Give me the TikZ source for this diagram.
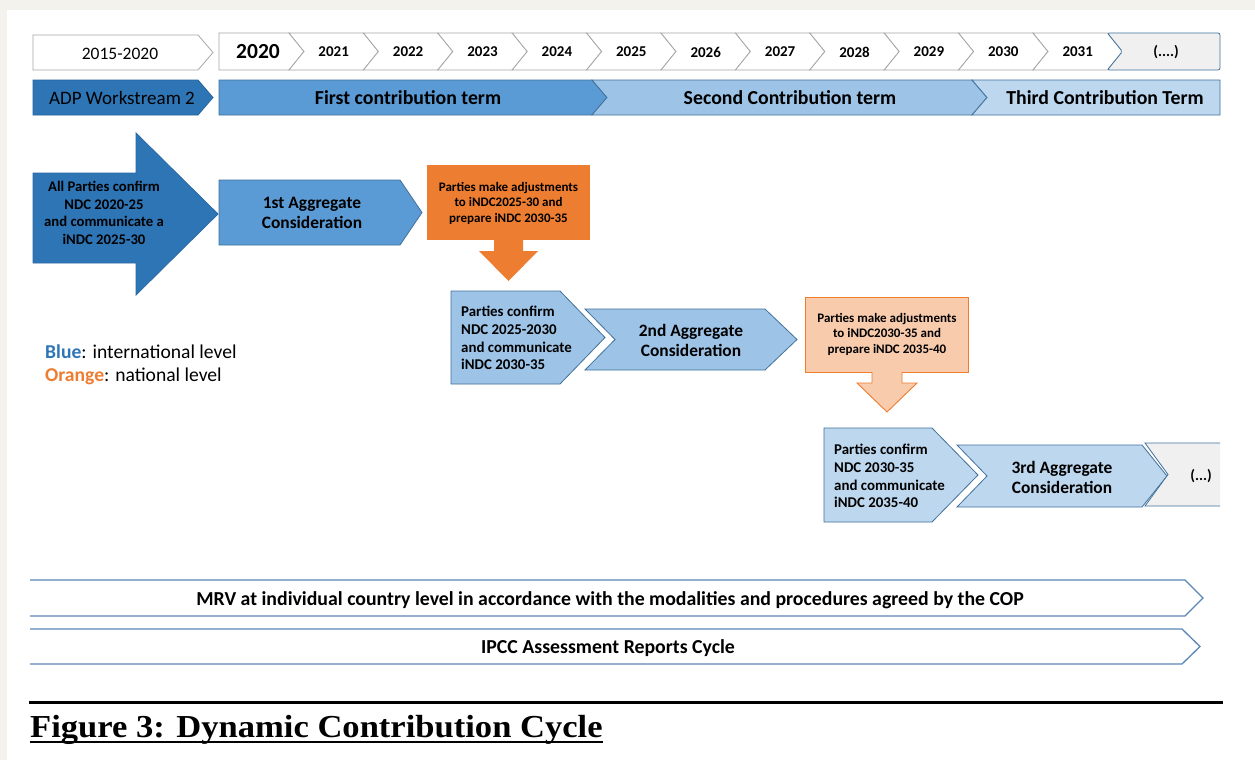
\documentclass[tikz,border=0pt]{standalone}
\usepackage{fontspec}
\setmainfont{Carlito}
\newfontfamily\capfont[FakeStretch=1.08]{Liberation Serif}
\definecolor{bgbeige}{HTML}{F3F2EC}
\definecolor{yrgray}{HTML}{A6A6A6}
\definecolor{dkblue}{HTML}{2E75B6}
\definecolor{mdblue}{HTML}{5B9BD5}
\definecolor{ltblue}{HTML}{9DC3E6}
\definecolor{vlblue}{HTML}{BDD7EE}
\definecolor{edgeblue}{HTML}{41719C}
\definecolor{lineblue}{HTML}{5A86B8}
\definecolor{orng}{HTML}{ED7D31}
\definecolor{ltorng}{HTML}{F8CBAD}
\definecolor{greyfill}{HTML}{F0F0F0}
\begin{document}
\begin{tikzpicture}[x=1pt,y=-1pt,
  yr/.style={draw=yrgray, fill=white, line width=0.8pt, line join=miter},
  bl/.style={draw=edgeblue, line width=0.8pt},
  yrtext/.style={font=\bfseries\fontsize{15}{17}\selectfont, inner sep=0pt},
  termtext/.style={font=\bfseries\fontsize{19.8}{22}\selectfont, inner sep=0pt},
  aggtext/.style={font=\bfseries\fontsize{17.4}{20}\selectfont, align=center, inner sep=0pt},
  pctext/.style={font=\bfseries\fontsize{14.9}{17.8}\selectfont, align=left, inner sep=0pt},
  ortext/.style={font=\bfseries\fontsize{13}{15.5}\selectfont, align=center, inner sep=0pt},
  bartext/.style={font=\bfseries\fontsize{19.8}{22}\selectfont, inner sep=0pt},
  legtext/.style={font=\fontsize{19.6}{22}\selectfont, anchor=west, inner sep=0pt}]
\useasboundingbox (0,0) rectangle (1255,760);
\fill[bgbeige] (0,0) rectangle (1255,760);
\fill[white] (7,10) rectangle (1255,760);

% ---- top row: years
\draw[yr] (33,35) -- (198,35) -- (213,52.5) -- (198,70) -- (33,70) -- cycle;
\node[font=\fontsize{17.5}{20}\selectfont, inner sep=0pt] (y1520) at (120,54) {2015-2020};
\draw[yr] (219,33) -- (289,33) -- (304,51.5) -- (289,70) -- (219,70) -- cycle;
\node[font=\bfseries\fontsize{21.5}{24}\selectfont, inner sep=0pt] (y2020) at (258,52) {2020};
\foreach \k [evaluate=\k as \a using 289+74.4*(\k-1), evaluate=\k as \b using 289+74.4*\k] in {1,...,11} {
  \draw[yr] (\a,33) -- (\b,33) -- (\b+15,51.5) -- (\b,70) -- (\a,70) -- (\a+15,51.5) -- cycle;
  \pgfmathtruncatemacro\yy{2020+\k}
  \node[yrtext] (y\yy) at ({(\a+\b)/2+7.5},52) {\yy};
}
\draw[bl, fill=greyfill, rounded corners=2pt] (1107.4,33) -- (1220,33) -- (1220,70) -- (1107.4,70) -- (1122.4,51.5) -- cycle;
\node[yrtext] (ymore) at (1166,52) {(....)};

% ---- second row: terms
\draw[draw=dkblue!85!black, fill=dkblue, line width=0.8pt] (33,80) -- (198,80) -- (213,97.5) -- (198,115) -- (33,115) -- cycle;
\node[font=\fontsize{19}{21}\selectfont, inner sep=0pt, text=black] (adp) at (122,98) {ADP Workstream 2};
\draw[bl, fill=mdblue] (219,80) -- (592,80) -- (607,97.5) -- (592,115) -- (219,115) -- cycle;
\node[termtext] (t1) at (408,97.5) {First contribution term};
\draw[bl, fill=ltblue] (592,80) -- (972,80) -- (987,97.5) -- (972,115) -- (592,115) -- (607,97.5) -- cycle;
\node[termtext] (t2) at (790,97.5) {Second Contribution term};
\draw[bl, fill=vlblue] (972,80) -- (1220,80) -- (1220,115) -- (972,115) -- (987,97.5) -- cycle;
\node[termtext] (t3) at (1105,97.5) {Third Contribution Term};

% ---- first cycle
\draw[draw=dkblue!90!black, fill=dkblue, line width=0.8pt] (33,173) -- (136,173) -- (136,133) -- (218,214) -- (136,295) -- (136,263) -- (33,263) -- cycle;
\node[font=\bfseries\fontsize{14.7}{17.5}\selectfont, align=center, inner sep=0pt] (allp) at (104,213) {All Parties confirm\\NDC 2020-25\\and communicate a\\iNDC 2025-30};
\draw[bl, fill=mdblue] (219,180) -- (400,180) -- (422,212.5) -- (400,245) -- (219,245) -- cycle;
\node[aggtext] (agg1) at (312,212.5) {1st Aggregate\\Consideration};
\fill[orng] (427,165) rectangle (590,240);
\fill[orng] (494,240) -- (523,240) -- (523,251) -- (538,251) -- (508.5,281) -- (479,251) -- (494,251) -- cycle;
\node[ortext] (adj1) at (508.5,203) {Parties make adjustments\\to iNDC2025-30 and\\prepare iNDC 2030-35};

% ---- second cycle
\draw[bl, fill=ltblue] (451,291) -- (560,291) -- (605,337.5) -- (560,384) -- (451,384) -- cycle;
\node[pctext, anchor=west] (pc2) at (461,338) {Parties confirm\\NDC 2025-2030\\and communicate\\iNDC 2030-35};
\draw[bl, fill=ltblue] (585,309) -- (765,309) -- (797,339.5) -- (765,370) -- (585,370) -- (615,339.5) -- cycle;
\node[aggtext] (agg2) at (691,340) {2nd Aggregate\\Consideration};
\draw[draw=orng, fill=ltorng, line width=0.9pt] (805,297) rectangle (968,372);
\fill[ltorng] (872,372) -- (872,383) -- (857,383) -- (887,412) -- (917,383) -- (902,383) -- (902,372) -- cycle;
\draw[draw=orng, line width=0.9pt] (872,372) -- (872,383) -- (857,383) -- (887,412) -- (917,383) -- (902,383) -- (902,372);
\node[ortext] (adj2) at (887,334) {Parties make adjustments\\to iNDC2030-35 and\\prepare iNDC 2035-40};

% ---- third cycle
\draw[bl, fill=vlblue] (824,428) -- (932,428) -- (978,475) -- (932,522) -- (824,522) -- cycle;
\node[pctext, anchor=west] (pc3) at (834,476) {Parties confirm\\NDC 2030-35\\and communicate\\iNDC 2035-40};
\draw[bl, fill=vlblue] (957,445) -- (1142,445) -- (1167,476) -- (1142,507) -- (957,507) -- (987,476) -- cycle;
\node[aggtext] (agg3) at (1062,477) {3rd Aggregate\\Consideration};
\fill[greyfill] (1220,443) -- (1145,443) -- (1168,474.5) -- (1145,506) -- (1220,506) -- cycle;
\draw[bl] (1220,443) -- (1145,443) -- (1168,474.5) -- (1145,506) -- (1220,506);
\node[yrtext] (more3) at (1201,476) {(...)};

% ---- legend
\node[legtext] (leg1) at (45,352) {\textbf{\textcolor{dkblue}{Blue}}: international level};
\node[legtext] (leg2) at (45,376) {\textbf{\textcolor{orng}{Orange}}: national level};

% ---- bottom bars
\draw[draw=lineblue, line width=1.3pt, line join=miter] (30,580) -- (1185,580) -- (1203,598) -- (1185,616) -- (30,616);
\node[bartext] (mrv) at (610,600) {MRV at individual country level in accordance with the modalities and procedures agreed by the COP};
\draw[draw=lineblue, line width=1.3pt, line join=miter] (30,629) -- (1182,629) -- (1200,646.5) -- (1182,664) -- (30,664);
\node[bartext] (ipcc) at (608,648) {IPCC Assessment Reports Cycle};

% ---- caption
\draw[line width=3pt] (29,702) -- (1223,702);
\node[font=\capfont\bfseries\fontsize{32}{34}\selectfont, anchor=base west, inner sep=0pt] (cap) at (30,737) {Figure 3: Dynamic Contribution Cycle};
\draw[line width=2pt] (cap.west |- 0,742) -- (cap.east |- 0,742);
\end{tikzpicture}
\end{document}
